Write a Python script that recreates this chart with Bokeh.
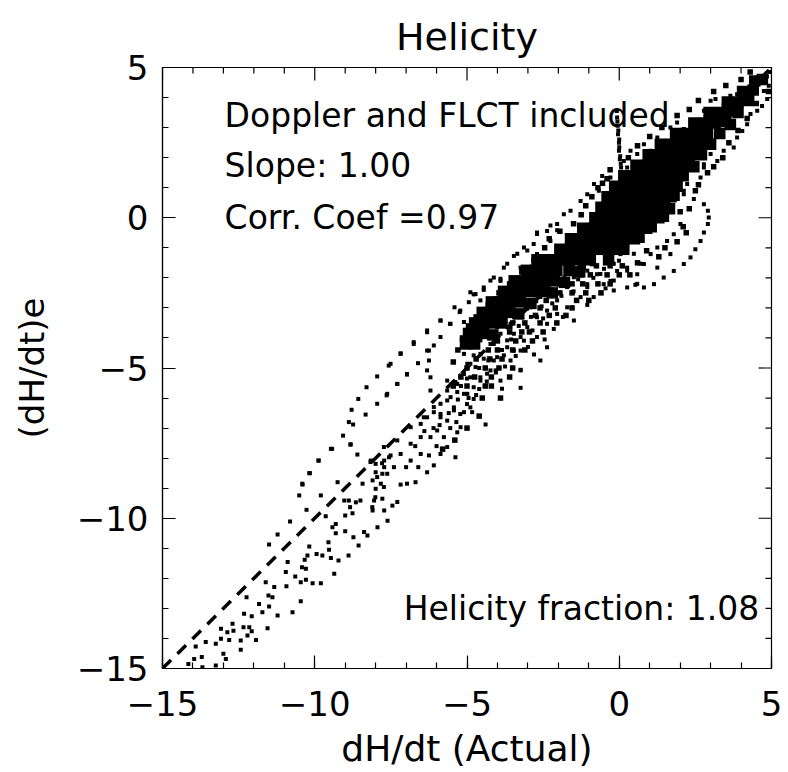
from bokeh.plotting import figure
from bokeh.models import Range1d, SingleIntervalTicker, Label
from bokeh.embed import file_html
from bokeh.resources import INLINE

# ---------------- data ----------------
title_text = "Helicity"
x_label = "dH/dt (Actual)"
y_label = "(dH/dt)e"
ticks = [-15, -10, -5, 0, 5]
tick_labels = ["\u221215", "\u221210", "\u22125", "0", "5"]
minor_ticks = [-15, -14, -13, -12, -11, -10, -9, -8, -7, -6, -5,
               -4, -3, -2, -1, 0, 1, 2, 3, 4, 5]
notes = ["Doppler and FLCT included", "Slope: 1.00", "Corr. Coef =0.97"]
fraction_note = "Helicity fraction: 1.08"

# fitted line (slope 1.00)
fit_x = [-15, 5]
fit_y = [-15, 5]

# densely packed part of the cloud
core_pts = [
    (4.45, 4.55), (4.7, 4.6),
    (4.05, 4.2), (4.4, 4.25),
    (3.55, 3.85), (3.9, 3.85), (4.25, 3.9),
    (2.95, 3.5), (3.3, 3.5), (3.65, 3.55), (3.9, 3.5),
    (2.45, 3.15), (2.8, 3.15), (3.15, 3.15), (3.5, 3.2), (3.65, 3.1),
    (1.85, 2.8), (2.2, 2.8), (2.55, 2.8), (2.9, 2.8), (3.3, 2.8),
    (1.35, 2.45), (1.7, 2.45), (2.05, 2.45), (2.4, 2.45), (2.75, 2.45), (3.0, 2.45),
    (0.95, 2.1), (1.3, 2.1), (1.65, 2.1), (2.0, 2.1), (2.35, 2.1), (2.7, 2.1),
    (0.55, 1.75), (0.9, 1.75), (1.25, 1.75), (1.6, 1.75), (1.95, 1.75), (2.3, 1.75), (2.45, 1.7),
    (0.15, 1.4), (0.5, 1.4), (0.85, 1.4), (1.2, 1.4), (1.55, 1.4), (1.9, 1.4), (2.1, 1.4),
    (-0.15, 1.05), (0.2, 1.05), (0.55, 1.05), (0.9, 1.05), (1.25, 1.05), (1.6, 1.05), (1.9, 1.05),
    (-0.4, 0.7), (-0.05, 0.7), (0.3, 0.7), (0.65, 0.7), (1.0, 0.7), (1.35, 0.7), (1.7, 0.7), (1.8, 0.75),
    (-0.6, 0.35), (-0.25, 0.35), (0.1, 0.35), (0.45, 0.35), (0.8, 0.35), (1.15, 0.35), (1.5, 0.35), (1.65, 0.3),
    (-0.8, 0.0), (-0.45, 0.0), (-0.1, 0.0), (0.25, 0.0), (0.6, 0.0), (0.95, 0.0), (1.3, 0.0), (1.45, 0.05),
    (-1.2, -0.35), (-0.85, -0.35), (-0.5, -0.35), (-0.15, -0.35), (0.2, -0.35), (0.55, -0.35), (0.9, -0.35), (1.05, -0.3),
    (-1.6, -0.7), (-1.25, -0.7), (-0.9, -0.7), (-0.55, -0.7), (-0.2, -0.7), (0.15, -0.7), (0.5, -0.7), (0.65, -0.65),
    (-1.95, -1.05), (-1.6, -1.05), (-1.25, -1.05), (-0.9, -1.05), (-0.55, -1.05), (-0.2, -1.05), (0.15, -1.05),
    (-2.7, -1.4), (-2.35, -1.4), (-2.0, -1.4), (-1.65, -1.4), (-1.3, -1.4), (-0.95, -1.4), (-0.35, -1.4),
    (-3.05, -1.75), (-2.75, -1.75), (-2.4, -1.75), (-2.05, -1.75), (-1.65, -1.75), (-1.3, -1.8),
    (-3.45, -2.1), (-3.15, -2.1), (-2.8, -2.1), (-2.45, -2.1), (-2.15, -2.1), (-1.8, -2.15),
    (-3.8, -2.45), (-3.5, -2.45), (-3.15, -2.45), (-2.8, -2.45), (-2.5, -2.45), (-2.2, -2.5),
    (-4.2, -2.8), (-3.95, -2.8), (-3.6, -2.8), (-3.25, -2.8), (-2.9, -2.85),
    (-4.5, -3.15), (-4.25, -3.15), (-3.9, -3.15), (-3.6, -3.15), (-3.3, -3.2),
    (-4.75, -3.5), (-4.5, -3.5), (-4.15, -3.5), (-3.85, -3.5),
    (-4.95, -3.85), (-4.75, -3.85), (-4.45, -3.85), (-4.15, -3.9),
    (-5.05, -4.2), (-4.75, -4.2),
]

# scattered points around the upper part of the cloud
upper_pts = [
    (3.0, 3.89), (3.16, 3.95), (3.43, 3.78), (2.78, 3.56), (2.94, 3.45), (3.65, 4.06),
    (3.87, 4.11), (4.36, 4.0), (4.75, 4.22), (4.86, 3.95), (4.69, 3.72), (4.53, 3.56),
    (4.91, 4.39), (4.75, 4.56), (4.31, 3.45), (4.2, 3.11), (4.04, 2.89), (3.87, 2.67),
    (3.76, 2.34), (3.43, 2.23), (3.22, 1.89), (2.78, 1.67), (2.67, 1.34), (2.78, 1.78),
    (2.23, 1.12), (2.12, 0.9), (3.0, 2.12), (4.95, 4.85), (4.85, 4.7),
    (1.68, 3.0), (1.9, 3.17), (2.12, 2.95), (1.25, 2.67), (0.81, 2.45), (1.03, 2.23),
    (0.59, 2.12), (0.37, 2.23), (0.15, 1.89), (0.26, 1.67), (-0.29, 1.34), (-0.56, 1.39),
    (-0.83, 1.12), (-0.67, 0.9), (-1.05, 0.78), (-1.27, 0.56), (-1.6, 0.23), (-1.82, 0.12),
    (-2.04, -0.21), (-2.37, -0.44), (-2.7, -0.49), (-3.13, -0.99), (-2.26, -0.77),
    (-3.46, -1.27), (-3.79, -1.66), (-4.12, -1.99), (-4.45, -2.32), (-3.9, -2.1),
    (-3.24, -1.66), (-2.7, -1.21), (-4.72, -2.54),
    (-0.08, 3.55), (-0.07, 3.34), (-0.06, 3.2), (-0.05, 3.06), (-0.03, 2.9), (-0.04, 2.78),
    (0.0, 2.6), (-0.01, 2.5), (0.0, 2.35), (-0.01, 2.23), (0.03, 2.05), (0.02, 1.95),
    (0.05, 1.8), (0.06, 1.67), (0.08, 1.5), (0.15, 1.34),
    (2.12, 0.78), (2.45, 0.62), (2.78, 0.45), (2.91, 0.23), (2.94, 0.01), (2.91, -0.21),
    (2.78, -0.49), (2.67, -0.77), (2.5, -1.05), (2.34, -1.32), (2.12, -1.54), (1.79, -1.77),
    (1.46, -1.99), (1.14, -2.21), (0.81, -2.32), (0.53, -2.23),
    (-0.29, -2.1), (-0.07, -1.77), (-0.01, -1.43), (0.04, -1.21), (-0.73, -1.88),
    (-0.51, -2.21), (0.26, -1.66), (0.59, -1.88), (0.81, -1.54), (1.03, -1.21), (1.25, -0.99),
    (1.57, -0.77), (1.79, -0.55), (2.01, -0.21), (1.68, -1.21), (1.25, -1.66), (-1.16, -1.66),
    (-1.6, -1.88), (-2.04, -2.21), (-2.37, -2.54), (-1.05, -2.21), (0.26, -2.32),
]

# dots along the edges of the packed part
edge_pts = [
    (-2.45, -1.0), (-2.3, -0.7), (-1.95, -0.45), (-1.5, -0.2), (-1.25, 0.1), (-1.1, 0.4),
    (-0.9, 0.7), (-0.7, 1.0), (-0.4, 1.3), (-2.8, -1.4), (-3.2, -1.8), (-3.6, -2.2),
    (-3.95, -2.5), (-4.3, -2.9), (-4.7, -3.3), (-4.95, -3.6), (-5.15, -4.0), (-5.3, -4.4),
    (-5.45, -4.8),
    (2.3, 0.3), (2.5, 0.9), (2.6, 1.1), (2.9, 1.5), (3.1, 1.7), (3.4, 2.0), (3.6, 2.5),
    (3.9, 2.9), (4.2, 3.3), (4.5, 3.8), (4.9, 4.2), (2.1, -0.3), (1.9, -0.8), (1.5, -1.0),
    (1.3, -1.3), (0.9, -1.1), (0.6, -1.5), (2.0, 0.2), (2.2, -0.5),
    (0.3, 2.0), (0.6, 2.4), (1.0, 2.7), (1.4, 3.0), (1.9, 3.4), (2.3, 3.6), (2.6, 3.9),
    (3.1, 4.2), (3.5, 4.4), (4.0, 4.6), (4.3, 4.85), (-0.3, 1.6), (-0.55, 1.15),
    (-1.2, -1.6), (-0.75, -1.6), (-0.3, -1.6), (0.1, -1.6),
    (-1.25, -1.9), (-0.95, -1.9), (-0.4, -1.9), (0.0, -1.9), (0.35, -1.9),
    (-1.95, -2.2), (-1.55, -2.2), (-1.2, -2.2), (-0.7, -2.2), (-0.3, -2.2),
    (-2.3, -2.5), (-1.95, -2.5), (-1.55, -2.5), (-1.1, -2.5), (-0.6, -2.5),
    (-2.75, -2.75), (-2.4, -2.75), (-1.4, -2.75), (-1.0, -2.75),
    (-3.05, -3.0), (-2.6, -3.0), (-2.1, -3.0), (-1.55, -3.0),
    (-3.3, -3.25), (-2.75, -3.25), (-2.3, -3.25), (-1.75, -3.25),
    (-3.5, -3.5), (-3.1, -3.5), (-2.6, -3.5), (-2.05, -3.5),
    (-3.6, -3.8), (-3.2, -3.8), (-2.95, -3.8), (-2.5, -3.8),
    (-4.0, -4.1), (-3.4, -4.1), (-2.85, -4.1),
    (-4.3, -4.4), (-4.0, -4.4), (-3.5, -4.4), (-3.1, -4.4),
    (-4.7, -4.7), (-4.25, -4.7), (-3.85, -4.7),
    (-5.0, -5.0), (-4.4, -5.0), (-3.95, -5.0), (-3.5, -5.0),
    (-5.2, -5.3), (-4.75, -5.3), (-4.2, -5.3),
    (-5.45, -5.6), (-5.0, -5.6), (-4.4, -5.6),
    (-4.5, -6.0), (-4.2, -5.6), (-3.6, -5.3), (-3.9, -6.0), (-4.6, -6.6), (-5.0, -7.0),
    (-5.4, -7.4), (-5.8, -7.7),
]

# scattered points around the middle of the cloud
mid_pts = [
    (-2.26, -0.26), (-2.04, -0.42), (-2.7, -0.54), (-2.81, -0.87), (-3.35, -1.2), (-3.02, -1.09),
    (-3.68, -1.53), (-3.9, -2.03), (-4.23, -2.09), (-4.89, -2.48), (-4.56, -2.75), (-5.22, -3.09),
    (-5.87, -3.42), (-5.54, -3.53), (-6.31, -3.75), (-6.75, -4.2), (-6.31, -4.42), (-7.18, -4.53),
    (-7.51, -4.86), (-6.97, -5.2), (-7.29, -5.53), (-7.62, -5.86), (-6.2, -5.31), (-6.2, -5.75),
    (-0.84, -1.09), (-0.4, -1.31), (-0.18, -1.53), (0.26, -1.76), (0.59, -2.2), (-1.05, -1.76),
    (-0.62, -1.87), (-0.18, -2.09), (-1.49, -1.98), (-1.05, -2.31), (-1.71, -2.31), (-1.27, -2.64),
    (-0.84, -2.64), (-2.04, -2.75), (-1.71, -2.98), (-2.37, -3.09), (-2.04, -3.2), (-2.7, -3.31),
    (-2.37, -3.53), (-3.02, -3.64), (-2.7, -3.97), (-3.13, -4.09), (-3.46, -3.86), (-3.68, -4.31),
    (-3.24, -4.42), (-4.01, -4.64), (-3.57, -4.75), (-4.23, -5.08), (-4.56, -5.31), (-4.78, -5.64),
    (-5.1, -5.86), (-5.43, -6.31), (-4.89, -6.31), (-5.87, -6.53), (-5.22, -6.53), (-3.24, -5.08),
    (-2.37, -4.31), (-1.49, -3.42), (-0.18, -2.42), (-2.59, -4.75), (-3.9, -5.42), (-5.65, -6.08),
    (-6.42, -6.64), (-6.09, -6.3), (-2.15, -2.09), (-2.59, -2.64), (-2.92, -2.98), (-3.24, -3.31),
    (-3.57, -3.53), (-3.9, -3.86), (-4.23, -4.2), (-4.56, -4.53), (-4.89, -4.86), (-5.1, -5.2),
    (-5.32, -5.53), (-5.65, -5.75), (-0.4, -0.76), (0.04, -0.98), (0.48, -1.2), (0.7, -1.53),
    (-1.3, -1.6), (-0.9, -1.55), (-0.5, -1.7), (-1.8, -2.0), (-1.35, -2.05), (-0.85, -2.0),
    (-0.45, -2.35), (-2.3, -2.35), (-1.9, -2.6), (-1.5, -2.45), (-1.05, -2.9), (-2.55, -2.95),
    (-2.2, -2.85), (-1.85, -3.3), (-2.9, -3.3), (-2.5, -3.35), (-2.15, -3.7), (-3.3, -3.6),
    (-2.85, -3.75), (-2.45, -4.05), (-3.55, -4.05), (-3.0, -4.3), (-3.85, -4.4), (-3.4, -4.6),
    (-2.8, -4.55), (-4.3, -4.75), (-3.75, -4.95), (-4.05, -5.15), (-4.6, -5.0), (-4.35, -5.45),
    (-5.0, -5.35), (-4.7, -5.9), (-5.3, -6.05), (-4.95, -6.0), (-5.6, -6.5), (-5.35, -6.8),
]

# lower band and sparse points (dH/dt between -10 and -3)
low_pts = [
    (-4.45, -2.40), (-4.78, -2.55), (-4.94, -2.81), (-5.41, -2.98), (-5.24, -3.14), (-5.10, -3.47),
    (-5.87, -3.42), (-5.56, -3.53), (-6.31, -3.81), (-5.87, -3.97), (-6.09, -4.25), (-6.75, -4.14),
    (-7.18, -4.51), (-6.25, -4.42), (-6.61, -4.84), (-6.25, -4.75), (-7.57, -4.92), (-6.97, -5.22),
    (-6.31, -5.08), (-7.95, -5.28), (-7.29, -5.53), (-8.30, -5.64), (-7.64, -5.91), (-8.57, -6.03),
    (-7.95, -6.19), (-8.79, -6.39), (-8.33, -6.55), (-8.88, -6.80), (-8.74, -6.88), (-9.07, -7.25),
    (-8.83, -7.55), (-9.43, -7.69), (-9.87, -8.08), (-10.16, -8.50), (-10.41, -8.85),
    (-3.24, -5.06), (-3.24, -5.66), (-3.85, -5.69), (-4.39, -6.88), (-5.21, -6.97), (-5.32, -7.14),
    (-5.38, -7.97), (-5.65, -7.63), (-5.87, -7.86), (-6.09, -8.24), (-6.31, -8.47), (-6.69, -8.80),
    (-6.97, -8.85), (-7.18, -8.88), (-7.29, -9.46), (-7.73, -8.96), (-8.01, -9.30), (-8.50, -9.41),
    (-8.88, -9.41), (-8.11, -9.63), (-7.95, -8.63), (-7.62, -8.52), (-6.85, -8.08), (-6.52, -7.86),
    (-6.25, -7.91), (-7.18, -7.86), (-7.51, -7.91), (-7.79, -8.17), (-8.17, -8.13), (-7.73, -7.63),
    (-7.29, -7.41), (-6.85, -7.52), (-6.52, -7.30), (-6.20, -7.30), (-5.98, -7.08), (-5.76, -7.30),
    (-6.85, -6.97), (-6.52, -6.86), (-6.31, -6.64), (-6.09, -6.47), (-5.87, -6.64), (-5.65, -6.75),
    (-5.43, -6.41), (-5.10, -6.47), (-4.83, -6.47), (-5.87, -6.19), (-5.54, -5.97), (-5.32, -5.80),
    (-4.99, -5.86), (-4.78, -6.03), (-5.65, -5.42), (-5.38, -5.47), (-5.21, -5.25), (-4.89, -5.31),
    (-4.56, -5.42), (-4.34, -5.19), (-4.06, -5.08), (-4.99, -4.86), (-4.72, -4.97), (-5.10, -4.53),
    (-4.78, -4.58), (-4.45, -4.69), (-4.12, -4.75), (-3.79, -4.58), (-3.46, -4.42), (-4.94, -4.25),
    (-4.56, -4.08), (-4.12, -4.20), (-3.68, -4.08), (-3.24, -3.97), (-4.45, -3.75), (-4.01, -3.64),
    (-3.57, -3.64), (-4.23, -3.31), (-3.90, -3.20), (-3.46, -3.31), (-3.90, -2.75), (-3.57, -2.87),
    (-3.35, -2.53), (-3.02, -2.75), (-3.68, -2.42), (-3.13, -2.25),
    (-5.0, -6.2), (-4.6, -5.7), (-5.2, -5.6), (-5.9, -6.9), (-6.1, -7.0), (-6.4, -7.1),
    (-5.55, -7.0), (-6.7, -7.6), (-6.0, -7.6), (-7.0, -8.3), (-7.4, -8.3), (-6.6, -8.3),
]

# sparse tail of the cloud (dH/dt below -7)
tail_pts = [
    (-8.82, -7.54), (-9.47, -7.69), (-8.60, -7.88), (-9.88, -8.08), (-10.18, -8.50), (-10.40, -8.88),
    (-9.25, -8.80), (-10.51, -9.24), (-9.80, -9.24), (-10.27, -9.72), (-9.03, -9.41), (-8.65, -9.47),
    (-8.84, -9.63), (-8.76, -9.83), (-9.00, -9.91), (-9.64, -9.93), (-10.81, -10.11), (-9.31, -10.19),
    (-9.42, -10.30), (-9.00, -10.43), (-8.73, -10.63), (-9.31, -10.50), (-8.38, -10.46), (-8.27, -10.57),
    (-7.94, -10.30), (-11.22, -10.54), (-11.50, -10.87), (-10.18, -10.94), (-9.55, -10.80), (-8.56, -10.91),
    (-9.53, -11.05), (-10.24, -11.24), (-9.94, -11.19), (-10.33, -11.38), (-10.89, -11.46), (-9.75, -11.24),
    (-9.47, -11.32), (-9.22, -11.41), (-8.89, -11.24), (-10.42, -11.63), (-10.29, -11.68), (-10.95, -11.79),
    (-10.64, -11.94), (-10.46, -12.13), (-10.29, -12.05), (-10.07, -12.16), (-9.80, -12.16), (-9.36, -11.85),
    (-11.33, -12.29), (-11.61, -12.13), (-10.93, -12.26), (-12.24, -12.63), (-11.52, -12.57), (-11.39, -12.63),
    (-11.50, -12.94), (-11.83, -12.85), (-11.72, -13.13), (-12.32, -13.18), (-12.07, -13.26), (-11.22, -13.24),
    (-10.73, -13.13), (-10.46, -12.76), (-12.70, -13.51), (-12.15, -13.63), (-12.34, -13.63), (-11.55, -13.66),
    (-13.08, -13.68), (-12.67, -13.74), (-12.07, -13.76), (-12.87, -13.79), (-12.21, -13.90), (-13.58, -14.12),
    (-13.25, -14.18), (-13.08, -14.01), (-12.81, -14.05), (-12.43, -14.07), (-11.93, -14.05), (-13.91, -14.27),
    (-13.71, -14.62), (-13.00, -14.51), (-12.92, -14.68), (-14.15, -14.85), (-13.96, -14.68), (-12.43, -14.38),
    (-13.69, -14.96), (-13.25, -14.90),
    (-8.16, -8.08), (-8.00, -8.19), (-7.72, -8.08), (-7.72, -8.30), (-7.56, -7.97), (-8.00, -8.47),
    (-7.78, -8.52), (-8.10, -8.74), (-7.83, -8.85), (-8.00, -9.02), (-8.43, -8.85), (-8.05, -9.41),
    (-7.78, -9.35), (-7.72, -9.74), (-8.10, -9.74), (-7.61, -10.08), (-7.45, -9.58),
]

# ---------------- figure ----------------
FONT = "DejaVu Sans"
X0, X1, Y0, Y1 = -15, 5, -15, 5

p = figure(width=788, height=772, output_backend="svg", toolbar_location=None,
           x_range=Range1d(X0, X1), y_range=Range1d(Y0, Y1),
           min_border_left=162, min_border_right=17, min_border_top=67, min_border_bottom=104,
           background_fill_color="white", border_fill_color="white")
p.xgrid.visible = False
p.ygrid.visible = False
p.outline_line_color = "black"
p.outline_line_width = 1.2

p.title.text = title_text
p.title.align = "center"
p.title.text_font = FONT
p.title.text_font_size = "38px"
p.title.text_font_style = "normal"
p.title.text_color = "black"
p.title.standoff = 18

overrides = {t: s for t, s in zip(ticks, tick_labels)}

for ax in (p.xaxis[0], p.yaxis[0]):
    ax.ticker = SingleIntervalTicker(interval=5, num_minor_ticks=5)
    ax.major_tick_in = 13
    ax.major_tick_out = 0
    ax.minor_tick_in = 6
    ax.minor_tick_out = 0
    ax.major_tick_line_color = "black"
    ax.minor_tick_line_color = "black"
    ax.major_tick_line_width = 1.2
    ax.minor_tick_line_width = 1.2
    ax.axis_line_color = "black"
    ax.axis_line_width = 1.2
    ax.major_label_overrides = overrides
    ax.major_label_text_font = FONT
    ax.major_label_text_font_size = "34px"
    ax.major_label_text_color = "black"
    ax.major_label_text_line_height = 1.0
    ax.axis_label_text_font = FONT
    ax.axis_label_text_font_style = "normal"
    ax.axis_label_text_color = "black"
    ax.axis_label_text_line_height = 1.0

xa = p.xaxis[0]
ya = p.yaxis[0]
xa.axis_label = x_label
ya.axis_label = y_label
xa.axis_label_text_font_size = "36px"
ya.axis_label_text_font_size = "34px"
xa.major_label_standoff = 22
ya.major_label_standoff = 14
xa.axis_label_standoff = 9
ya.axis_label_standoff = 22

# inward ticks on the top and right sides of the box
sx = (X1 - X0) / 609.0   # data units per pixel, x
sy = (Y1 - Y0) / 601.0   # data units per pixel, y
maj = [t for t in minor_ticks if t in ticks]
mnr = [t for t in minor_ticks if t not in ticks]
p.segment(x0=maj, y0=[Y1] * len(maj), x1=maj, y1=[Y1 - 13 * sy] * len(maj),
          line_color="black", line_width=1.2)
p.segment(x0=mnr, y0=[Y1] * len(mnr), x1=mnr, y1=[Y1 - 6 * sy] * len(mnr),
          line_color="black", line_width=1.2)
p.segment(x0=[X1] * len(maj), y0=maj, x1=[X1 - 13 * sx] * len(maj), y1=maj,
          line_color="black", line_width=1.2)
p.segment(x0=[X1] * len(mnr), y0=mnr, x1=[X1 - 6 * sx] * len(mnr), y1=mnr,
          line_color="black", line_width=1.2)

# fitted line
p.line(fit_x, fit_y, line_color="black", line_width=3.5, line_dash="12 9")

# points
core_x = [a for a, b in core_pts]
core_y = [b for a, b in core_pts]
p.scatter(core_x, core_y, marker="square", size=11.5, fill_color="black", line_color=None)

edge_x = [a for a, b in edge_pts]
edge_y = [b for a, b in edge_pts]
p.scatter(edge_x, edge_y, marker="square", size=5.5, fill_color="black", line_color=None)

for group in (upper_pts, mid_pts, low_pts, tail_pts):
    gx = [a for a, b in group]
    gy = [b for a, b in group]
    p.scatter(gx, gy, marker="square", size=4, fill_color="black", line_color=None)

# annotations
note_y = [3.40, 1.74, 0.01]
for txt, yy in zip(notes, note_y):
    p.add_layout(Label(x=-12.96, y=yy, text=txt, text_font=FONT, text_font_size="33px",
                       text_color="black", text_baseline="alphabetic"))
p.add_layout(Label(x=4.6, y=-13.0, text=fraction_note, text_font=FONT, text_font_size="33px",
                   text_color="black", text_baseline="alphabetic", text_align="right"))

open("out.html", "w").write(file_html(p, INLINE))
